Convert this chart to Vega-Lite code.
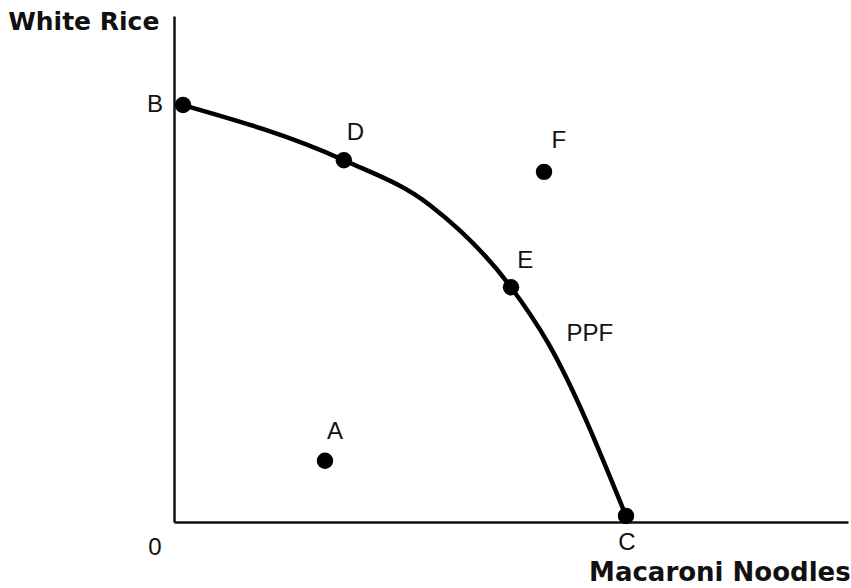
{
  "$schema": "https://vega.github.io/schema/vega-lite/v6.json",
  "width": 674,
  "height": 506,
  "autosize": "none",
  "padding": {"left": 174, "top": 16, "right": 3, "bottom": 66},
  "background": "white",
  "config": {"view": {"stroke": null}},
  "datasets": {
    "curve": [
      {"x": 1.34, "y": 82.4},
      {"x": 25.2, "y": 71.5},
      {"x": 37.98, "y": 62.6},
      {"x": 50.0, "y": 46.4},
      {"x": 55.49, "y": 35.4},
      {"x": 67.06, "y": 1.2}
    ],
    "points": [
      {"name": "B", "x": 1.34, "y": 82.4},
      {"name": "D", "x": 25.2, "y": 71.5},
      {"name": "F", "x": 54.9, "y": 69.2},
      {"name": "E", "x": 50.0, "y": 46.4},
      {"name": "A", "x": 22.4, "y": 12.1},
      {"name": "C", "x": 67.06, "y": 1.2}
    ],
    "labels": [
      {"text": "B", "x": -2.82, "y": 82.4},
      {"text": "D", "x": 26.9, "y": 76.9},
      {"text": "F", "x": 57.1, "y": 75.3},
      {"text": "E", "x": 52.1, "y": 51.6},
      {"text": "A", "x": 23.9, "y": 17.8},
      {"text": "C", "x": 67.2, "y": -4.15},
      {"text": "PPF", "x": 61.7, "y": 37.2},
      {"text": "0", "x": -2.82, "y": -5.14}
    ],
    "titles": [
      {"text": "White Rice", "x": -24.6, "y": 98.8, "side": "left"},
      {"text": "Macaroni Noodles", "x": 100.4, "y": -10.1, "side": "right"}
    ]
  },
  "encoding": {
    "x": {"field": "x", "type": "quantitative", "scale": {"domain": [0, 100], "nice": false, "zero": false},
      "axis": {"title": null, "labels": false, "ticks": false, "grid": false, "domainColor": "#111", "domainWidth": 2.5}},
    "y": {"field": "y", "type": "quantitative", "scale": {"domain": [0, 100], "nice": false, "zero": false},
      "axis": {"title": null, "labels": false, "ticks": false, "grid": false, "domainColor": "#111", "domainWidth": 2.5}}
  },
  "layer": [
    {
      "data": {"name": "curve"},
      "mark": {"type": "line", "interpolate": "monotone", "color": "#000", "strokeWidth": 4.5, "clip": false}
    },
    {
      "data": {"name": "points"},
      "mark": {"type": "point", "filled": true, "color": "#000", "size": 270, "opacity": 1, "clip": false}
    },
    {
      "data": {"name": "labels"},
      "mark": {"type": "text", "font": "Liberation Sans", "fontSize": 24, "color": "#111", "align": "center", "baseline": "middle", "clip": false},
      "encoding": {"text": {"field": "text"}}
    },
    {
      "data": {"name": "titles"},
      "transform": [{"filter": "datum.side === 'left'"}],
      "mark": {"type": "text", "font": "DejaVu Sans", "fontWeight": "bold", "fontSize": 25, "color": "#111", "align": "left", "baseline": "middle", "clip": false},
      "encoding": {"text": {"field": "text"}}
    },
    {
      "data": {"name": "titles"},
      "transform": [{"filter": "datum.side === 'right'"}],
      "mark": {"type": "text", "font": "DejaVu Sans", "fontWeight": "bold", "fontSize": 26, "color": "#111", "align": "right", "baseline": "middle", "clip": false},
      "encoding": {"text": {"field": "text"}}
    }
  ]
}
